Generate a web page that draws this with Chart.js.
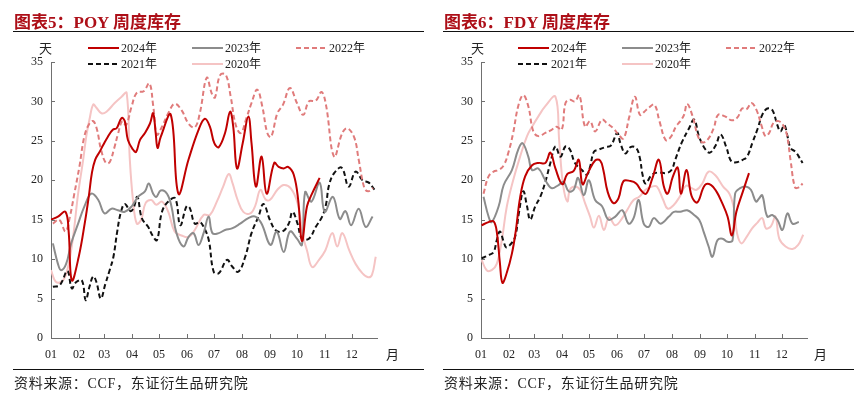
<!DOCTYPE html>
<html>
<head>
<meta charset="utf-8">
<script src="https://cdn.jsdelivr.net/npm/chart.js@4.4.1/dist/chart.umd.min.js"></script>
<style>
  html,body{margin:0;padding:0;background:#fff;}
  body{width:864px;height:398px;position:relative;overflow:hidden;}
  .panel{position:absolute;top:0;width:432px;height:398px;}
  .panel canvas{position:absolute;left:0;top:0;}
  .title{position:absolute;left:14px;top:8px;font:bold 17px "Liberation Serif","Noto Sans CJK SC";color:#ad0f18;white-space:nowrap;}
  .rule{position:absolute;left:13px;width:411px;height:1px;background:#111;}
  .unit,.month{position:absolute;font:13px "Noto Sans CJK SC";color:#222;}
  .src{position:absolute;left:14px;top:372px;font:14px "Liberation Serif","Noto Sans CJK SC";letter-spacing:0.7px;color:#222;white-space:nowrap;}
</style>
</head>
<body>
<div class="panel" style="left:0">
  <canvas id="c1" width="432" height="398"></canvas>
  <div class="title">图表5：POY 周度库存</div>
  <div class="rule" style="top:31px"></div>
  <div class="unit" style="left:39px;top:38px">天</div>
  <div class="month" style="left:386px;top:344px">月</div>
  <div class="rule" style="top:369px"></div>
  <div class="src">资料来源：CCF，东证衍生品研究院</div>
</div>
<div class="panel" style="left:430px">
  <canvas id="c2" width="432" height="398"></canvas>
  <div class="title">图表6：FDY 周度库存</div>
  <div class="rule" style="top:31px"></div>
  <div class="unit" style="left:41px;top:38px">天</div>
  <div class="month" style="left:384px;top:344px">月</div>
  <div class="rule" style="top:369px"></div>
  <div class="src">资料来源：CCF，东证衍生品研究院</div>
</div>
<script>
// ---------- data (week-of-year, days of inventory) ----------
const seriesLabels = ['2024年','2023年','2022年','2021年','2020年'];
const monthLabels = ['01','02','03','04','05','06','07','08','09','10','11','12'];
const monthStartDay = [0,31,59,90,120,151,181,212,243,273,304,334];
const yTicks = [0,5,10,15,20,25,30,35];

// POY
const poyW2024 = [0,1.1,2.3,2.8,3.3,4.4,5.4,6.0,6.5,7.0,7.7,8.3,9.0,9.8,10.4,11.2,11.7,12.2,13.0,13.5,14.1,14.9,15.7,16.2,16.6,16.9,17.4,19.0,20.2,21.8,23.4,24.4,25.2,25.9,26.6,27.6,28.4,28.9,29.5,30.4,31.3,31.8,32.5,33.4,34.2,35.4,36.1,36.9,37.6,38.5,39.2,39.8,40.6,41.4,42.6];
const poyV2024 = [15.0,15.4,16.0,13.5,7.3,10.3,14.8,18.0,21.0,22.6,23.6,24.5,25.5,26.4,26.6,27.9,27.5,25.1,23.9,23.6,25.1,26.0,27.2,28.5,26.0,24.1,25.5,28.3,18.3,22.6,26.4,27.8,26.8,24.7,24.2,26.0,28.7,26.8,21.5,24.7,28.1,24.7,19.2,23.0,18.3,22.2,21.7,21.5,21.7,20.7,17.5,12.3,16.7,18.3,20.3];
const poyW2023 = [0.3,1.1,1.6,2.4,3.2,4.3,5.3,6.4,7.5,8.5,9.6,10.6,11.7,12.8,13.8,14.9,15.5,16.2,16.7,17.4,18.4,19.1,19.9,21.0,21.8,22.6,23.4,24.2,25.0,25.6,26.6,27.6,28.7,30.0,31.3,32.4,33.4,34.8,35.8,36.9,37.9,39.0,39.8,40.3,41.3,42.6,43.4,44.7,45.8,46.7,47.6,48.8,49.9,51.0];
const poyV2023 = [12.0,9.4,8.6,9.4,12.0,14.5,16.7,18.3,17.5,15.8,16.4,16.2,16.0,16.7,17.9,18.6,19.6,18.3,17.9,18.7,18.3,16.7,13.3,11.6,12.8,13.3,11.8,13.3,15.4,13.3,13.3,13.7,13.9,14.5,15.2,15.4,14.5,11.8,13.5,10.9,13.5,12.6,11.8,18.5,17.3,19.7,16.0,17.9,15.1,16.1,14.3,16.4,14.1,15.4];
const poyW2022 = [0.3,1.3,2.3,3.0,3.7,4.5,5.3,6.1,6.7,7.3,7.9,8.7,9.3,10.0,10.6,11.3,11.9,12.8,13.6,14.7,15.6,16.2,16.8,17.6,18.6,19.6,20.7,21.8,22.8,23.6,24.7,25.5,26.0,26.8,27.7,28.5,29.3,30.1,31.0,31.8,32.7,33.5,34.3,34.9,35.9,36.8,37.9,39.0,40.0,40.9,42.0,42.9,43.6,44.9,46.2,47.0,48.1,48.8,49.7,50.3,51.1];
const poyV2022 = [14.5,15.0,13.5,15.4,18.3,21.7,25.6,27.2,27.5,26.4,24.0,22.2,22.3,24.0,25.8,27.5,27.0,29.4,31.1,31.3,32.3,29.5,25.8,26.8,28.5,29.7,28.9,27.2,26.7,28.5,33.0,31.0,30.5,33.3,33.4,30.6,27.0,26.0,27.9,29.8,31.5,29.4,26.0,25.5,28.5,29.6,31.7,29.8,28.3,30.0,30.1,31.2,29.6,23.0,26.0,26.6,25.4,22.6,19.0,18.6,19.0];
const poyW2021 = [0.3,1.4,2.6,3.3,4.0,4.9,5.5,6.1,6.7,7.2,7.9,8.6,9.3,9.9,10.5,11.1,11.7,12.6,13.1,13.7,14.4,15.4,16.1,16.8,17.6,18.6,19.7,20.5,21.5,22.0,22.8,23.6,24.2,25.0,25.8,26.6,27.9,28.7,29.7,30.8,31.8,32.9,33.7,34.7,35.6,36.7,37.7,38.3,39.1,39.8,40.9,42.0,43.0,43.6,44.1,44.9,46.1,47.2,48.3,49.4,50.4,51.3];
const poyV2021 = [6.5,6.7,8.5,6.3,7.1,7.3,4.8,6.5,7.8,7.1,5.0,6.8,8.6,10.3,13.5,16.0,17.0,16.1,16.5,17.9,15.2,14.1,13.0,12.4,16.0,17.3,17.7,14.3,16.7,16.5,14.5,14.7,14.1,12.5,8.4,8.2,9.9,9.1,8.4,10.3,13.3,15.4,17.0,15.0,13.7,13.5,14.5,16.0,14.5,12.6,12.6,14.1,15.4,16.9,19.4,20.9,21.6,19.2,21.1,20.0,19.7,18.8];
const poyW2020 = [0,0.8,1.9,2.7,3.5,4.3,5.1,5.6,6.1,6.7,7.2,8.0,8.8,10.1,11.2,12.0,12.5,13.0,13.6,14.3,15.0,15.9,16.7,17.6,18.6,19.6,20.7,21.8,22.8,24.2,25.2,26.3,27.3,28.2,28.8,29.6,30.5,31.6,32.4,33.2,34.0,34.7,35.9,36.9,38.0,39.1,40.0,40.6,41.4,42.5,43.5,44.6,45.4,46.2,47.3,48.3,49.4,50.3,50.9,51.5];
const poyV2020 = [8.6,7.1,7.3,9.0,12.8,18.3,22.6,25.6,27.7,29.6,29.2,28.5,28.7,29.8,30.6,31.1,22.6,17.5,14.5,15.0,17.1,17.5,16.9,17.3,16.0,13.5,13.0,12.8,13.7,15.6,15.6,17.3,19.2,20.8,19.6,17.5,16.0,15.8,16.8,18.8,17.6,17.5,18.8,19.4,19.0,17.1,12.8,11.1,9.0,9.9,11.1,13.3,11.6,13.3,11.1,9.4,8.2,7.7,8.0,10.3];

// FDY
const fdyW2024 = [0.1,1.2,2.0,2.5,3.0,3.4,4.1,4.9,5.5,6.2,7.0,8.1,9.1,10.2,11.0,11.8,12.9,13.7,14.7,15.5,16.1,17.0,18.1,18.9,19.4,20.1,21.0,21.8,22.6,23.7,24.6,25.4,26.2,27.2,28.2,29.0,29.6,30.4,31.2,31.7,32.6,33.4,34.3,35.5,36.5,37.4,38.2,39.1,39.8,40.5,41.5,42.5];
const fdyV2024 = [14.3,14.7,14.8,13.5,9.5,7.0,8.3,10.7,13.5,17.8,20.5,21.9,22.2,22.2,23.5,21.5,19.5,20.8,21.2,22.6,19.5,21.0,22.5,22.5,21.3,18.5,17.1,17.7,19.9,19.9,19.6,18.7,18.3,20.3,22.6,19.2,18.3,20.4,21.6,18.3,21.3,18.0,17.2,19.4,19.4,18.5,17.2,15.4,13.0,16.0,18.5,20.9];
const fdyW2023 = [0.4,1.2,1.7,2.8,3.6,4.9,5.9,6.6,7.5,8.1,9.1,10.2,11.2,12.3,13.1,13.9,14.7,15.4,16.3,17.1,18.1,19.2,20.2,21.3,22.4,23.4,24.2,25.0,25.8,26.6,27.4,28.5,29.8,30.6,31.6,32.7,33.8,34.6,35.3,36.1,36.7,37.5,38.3,39.1,39.9,40.3,41.1,42.0,42.8,43.6,44.1,44.6,45.4,46.2,47.0,47.8,48.6,49.4,50.4];
const fdyV2023 = [17.9,15.4,14.7,16.7,19.4,21.3,23.9,24.7,23.0,21.3,21.5,20.0,19.0,19.4,19.8,18.6,18.8,20.3,18.1,20.0,17.5,16.7,15.0,15.4,16.2,14.5,15.2,17.5,14.5,14.1,15.2,14.5,15.4,16.0,16.0,16.2,15.6,15.0,13.5,11.6,10.3,12.4,12.6,12.2,12.4,18.3,19.0,19.2,18.8,17.3,17.7,18.1,15.4,15.6,15.0,13.7,15.8,14.5,14.7];
const fdyW2022 = [0.4,1.2,2.0,2.8,3.6,4.3,5.1,5.9,6.7,7.5,8.3,9.1,10.2,11.2,12.0,12.8,13.4,14.1,14.9,15.6,16.5,17.3,18.1,19.2,20.0,21.0,21.8,22.6,23.5,24.4,25.2,25.9,26.6,27.5,28.3,29.3,30.1,30.9,31.6,32.2,32.7,33.6,34.4,35.1,35.9,36.9,37.6,38.7,39.8,40.7,41.4,42.1,42.9,43.7,44.5,45.1,45.7,46.4,47.2,47.9,48.5,49.1,49.8,50.4,51.0];
const fdyV2022 = [18.3,20.5,21.1,21.3,21.9,23.4,26.0,29.4,30.8,29.4,26.2,25.6,26.0,26.4,26.8,26.4,29.8,30.2,30.0,30.8,26.8,27.5,26.2,27.7,27.2,26.6,25.8,25.3,28.0,30.6,28.3,28.7,29.2,29.6,27.5,25.1,25.5,26.8,27.5,28.3,29.7,28.0,25.6,24.8,25.1,26.6,28.3,28.1,27.6,28.0,29.1,29.0,29.8,28.9,26.9,25.6,26.0,27.3,27.5,27.0,25.8,22.5,19.1,19.1,19.6];
const fdyW2021 = [0.1,1.2,2.0,2.5,3.0,3.6,4.0,4.6,5.4,6.0,6.7,7.3,7.8,8.6,9.4,10.2,11.0,11.8,12.6,13.4,14.1,14.9,16.0,16.8,17.3,17.9,18.7,19.7,20.6,21.6,22.1,22.9,23.7,24.6,25.2,25.6,26.1,27.1,28.2,29.3,30.2,30.8,31.9,33.0,33.8,34.6,35.6,36.3,37.2,38.0,38.9,39.7,40.6,41.5,42.2,43.1,43.9,44.6,45.4,46.2,47.0,47.5,48.1,48.6,49.1,49.9,50.4,51.0];
const fdyV2021 = [10.1,10.5,10.9,12.4,13.5,12.2,11.5,11.8,12.8,15.8,18.6,16.7,15.0,16.7,17.9,19.8,22.2,24.3,23.0,24.3,23.9,22.2,21.3,20.7,21.7,23.6,23.9,24.2,24.4,26.0,24.7,23.4,24.2,24.1,22.8,20.8,19.6,20.7,21.0,20.9,21.3,22.6,24.9,26.6,27.7,25.5,23.9,23.5,24.4,25.8,24.2,22.4,22.3,22.6,23.0,24.9,26.6,28.3,29.1,28.9,27.0,26.2,27.0,25.6,24.1,23.6,23.0,22.2];
const fdyW2020 = [0.1,0.9,1.7,2.5,3.3,4.1,5.1,6.2,7.3,8.1,9.1,10.2,11.8,12.4,13.0,13.7,14.1,14.9,15.7,16.5,17.3,17.9,18.7,19.5,20.3,21.3,22.4,23.3,24.2,25.1,26.1,27.1,27.9,28.9,29.6,30.5,31.5,32.5,33.4,34.2,35.1,36.1,37.2,38.4,39.4,40.1,40.6,41.3,42.1,43.0,43.8,44.6,45.2,46.0,46.7,47.3,48.3,49.4,50.3,51.1];
const fdyV2020 = [9.9,8.6,8.6,9.4,12.4,16.7,20.0,23.0,25.6,26.8,28.1,29.4,30.6,25.0,19.5,17.3,18.8,19.2,18.8,17.1,15.4,14.0,15.5,13.7,15.3,14.3,15.2,16.4,17.5,17.9,18.8,19.2,19.2,17.5,16.4,16.8,17.9,19.3,19.0,18.8,19.6,21.1,20.6,19.2,18.3,16.5,13.3,12.0,12.8,13.9,14.6,15.2,13.9,14.2,15.4,12.6,11.6,11.3,11.8,13.1];

// ---------- styling ----------
const colors = ['#c00000','#8c8c8c','#e07b7b','#111111','#f5c4c4'];
const dashes = [[],[],[5,3],[5,3],[]];
const AXIS = '#707070';
const TXT = '#222';
const monthPos = monthStartDay.map(d => d / 7);

function pts(w, v){ return w.map((x,i)=>({x:x, y:v[i]})); }

const legendSlots = [[88,48],[192,48],[296,48],[88,64],[192,64]];

const decorPlugin = {
  id:'decor',
  afterDraw(chart){
    const {ctx, chartArea:{left,bottom}, scales:{x,y}} = chart;
    ctx.save();
    ctx.strokeStyle = AXIS; ctx.lineWidth = 1; ctx.setLineDash([]);
    ctx.beginPath();
    monthPos.forEach(v => {
      const px = Math.round(x.getPixelForValue(v)) + 0.5;
      ctx.moveTo(px, bottom); ctx.lineTo(px, bottom - 4);
    });
    yTicks.forEach(v => {
      const py = Math.round(y.getPixelForValue(v)) + 0.5;
      ctx.moveTo(left, py); ctx.lineTo(left + 4, py);
    });
    ctx.stroke();
    ctx.font = '12px "Liberation Serif","Noto Sans CJK SC"';
    ctx.textBaseline = 'middle';
    chart.data.datasets.forEach((ds, i) => {
      const [lx, ly] = legendSlots[i];
      ctx.strokeStyle = ds.borderColor;
      ctx.lineWidth = 2;
      ctx.setLineDash(ds.borderDash || []);
      ctx.beginPath(); ctx.moveTo(lx, ly); ctx.lineTo(lx + 31, ly); ctx.stroke();
      ctx.fillStyle = TXT;
      ctx.fillText(ds.label, lx + 33, ly + 1);
    });
    ctx.restore();
  }
};

function makeChart(id, seriesW, seriesV){
  const datasets = seriesW.map((w,i)=>({
    label: seriesLabels[i],
    data: pts(w, seriesV[i]),
    borderColor: colors[i],
    borderDash: dashes[i],
    borderWidth: 2,
    pointRadius: 0,
    fill: false,
    tension: 0.4
  }));
  return new Chart(document.getElementById(id), {
    type:'line',
    data:{datasets},
    plugins:[decorPlugin],
    options:{
      responsive:false, animation:false, devicePixelRatio:1,
      layout:{padding:{left:0,right:55,top:62,bottom:35}},
      plugins:{legend:{display:false}, tooltip:{enabled:false}},
      scales:{
        x:{
          type:'linear', min:0, max:51.7,
          afterBuildTicks: s => { s.ticks = monthPos.map(v=>({value:v})); },
          afterFit: s => { s.height = 25; },
          ticks:{autoSkip:false, maxRotation:0, padding:10, color:TXT,
                 font:{family:'"Liberation Serif"', size:12},
                 callback:(v,i)=>monthLabels[i]},
          grid:{display:false, drawTicks:false},
          border:{display:true, color:AXIS, width:1}
        },
        y:{
          min:0, max:35,
          afterBuildTicks: s => { s.ticks = yTicks.map(v=>({value:v})); },
          afterFit: s => { s.width = 51; },
          ticks:{padding:8, color:TXT, font:{family:'"Liberation Serif"', size:12}},
          grid:{display:false, drawTicks:false},
          border:{display:true, color:AXIS, width:1}
        }
      }
    }
  });
}

makeChart('c1', [poyW2024,poyW2023,poyW2022,poyW2021,poyW2020], [poyV2024,poyV2023,poyV2022,poyV2021,poyV2020]);
makeChart('c2', [fdyW2024,fdyW2023,fdyW2022,fdyW2021,fdyW2020], [fdyV2024,fdyV2023,fdyV2022,fdyV2021,fdyV2020]);
</script>
</body>
</html>
